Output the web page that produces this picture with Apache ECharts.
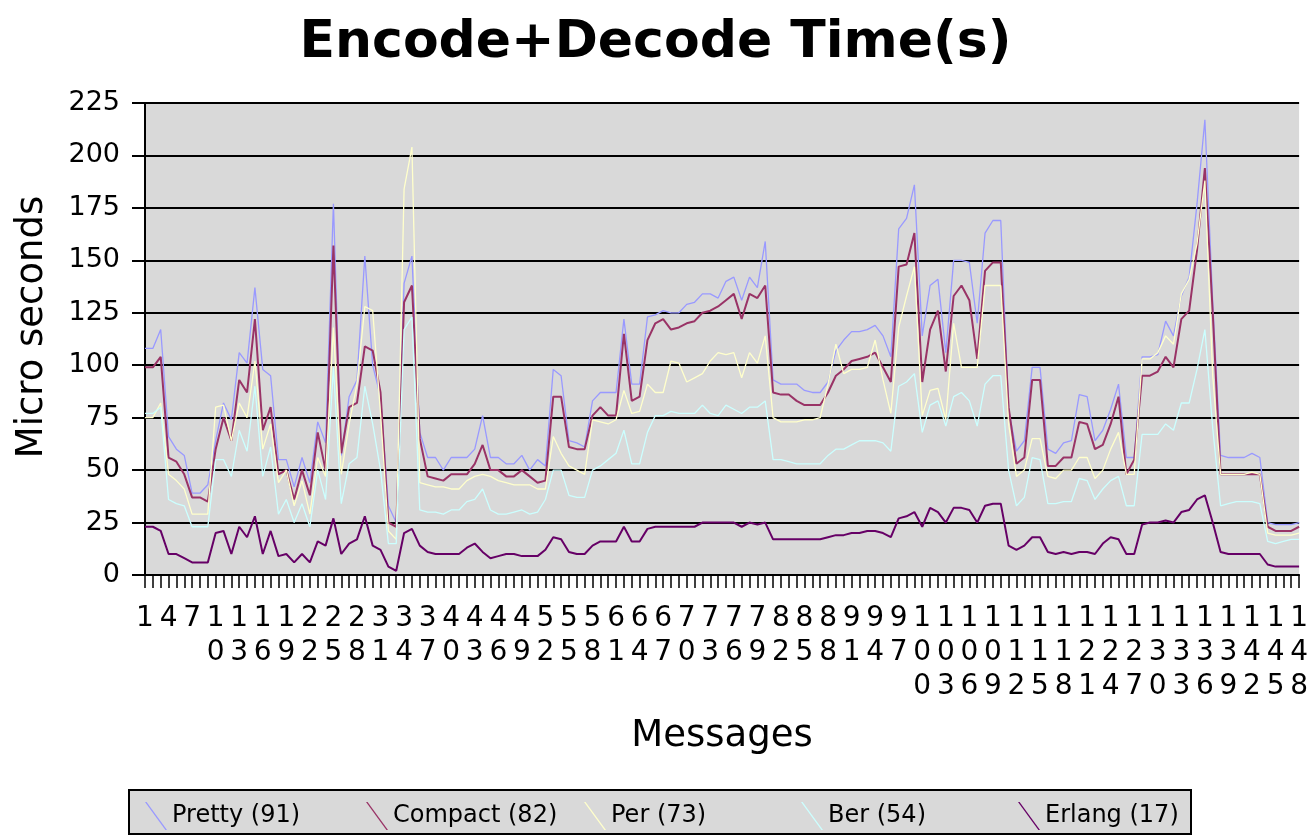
<!DOCTYPE html>
<html>
<head>
<meta charset="utf-8">
<title>Encode+Decode Time(s)</title>
<script src="https://cdn.jsdelivr.net/npm/echarts@6/dist/echarts.min.js"></script>
<style>
  html, body { margin: 0; padding: 0; background: #fff; }
  #chart { width: 1311px; height: 835px; }
</style>
</head>
<body>
<div id="chart"></div>
<script>
// message numbers on the x axis
let messages = [
  1, 2, 3, 4, 5, 6, 7, 8, 9, 10, 11, 12, 13, 14, 15, 16, 17, 18, 19, 20,
  21, 22, 23, 24, 25, 26, 27, 28, 29, 30, 31, 32, 33, 34, 35, 36, 37, 38, 39, 40,
  41, 42, 43, 44, 45, 46, 47, 48, 49, 50, 51, 52, 53, 54, 55, 56, 57, 58, 59, 60,
  61, 62, 63, 64, 65, 66, 67, 68, 69, 70, 71, 72, 73, 74, 75, 76, 77, 78, 79, 80,
  81, 82, 83, 84, 85, 86, 87, 88, 89, 90, 91, 92, 93, 94, 95, 96, 97, 98, 99, 100,
  101, 102, 103, 104, 105, 106, 107, 108, 109, 110, 111, 112, 113, 114, 115, 116, 117, 118, 119, 120,
  121, 122, 123, 124, 125, 126, 127, 128, 129, 130, 131, 132, 133, 134, 135, 136, 137, 138, 139, 140,
  141, 142, 143, 144, 145, 146, 147, 148
]

// micro seconds per message
let pretty = [
  108, 108, 117, 66, 60, 57, 39, 39, 43, 64, 82, 74, 106, 101, 137, 98, 95, 55, 55, 42, 56, 44, 73, 63, 177,
  57, 85, 93, 152, 100, 85, 33, 25, 139, 152, 68, 56, 56, 50, 56, 56, 56, 60, 76, 56, 56, 53, 53, 57, 50,
  55, 52, 98, 95, 64, 63, 61, 83, 87, 87, 87, 122, 91, 91, 123, 124, 126, 125, 125, 129, 130, 134, 134, 132, 140,
  142, 131, 142, 137, 159, 93, 91, 91, 91, 88, 87, 87, 92, 107, 112, 116, 116, 117, 119, 114, 104, 165, 170, 186, 114,
  138, 141, 106, 150, 150, 149, 120, 163, 169, 169, 79, 59, 64, 99, 99, 60, 58, 63, 64, 86, 85, 64, 69, 79, 91,
  56, 56, 104, 104, 105, 121, 114, 133, 142, 177, 217, 130, 57, 56, 56, 56, 58, 56, 25, 24, 24, 24, 25
]
let compact = [
  99, 99, 104, 56, 54, 48, 37, 37, 35, 60, 75, 64, 93, 87, 122, 69, 80, 48, 50, 36, 50, 38, 68, 50, 157,
  58, 80, 82, 109, 107, 87, 25, 23, 130, 138, 65, 47, 46, 45, 48, 48, 48, 53, 62, 50, 50, 47, 47, 50, 47,
  44, 45, 85, 85, 61, 60, 60, 76, 80, 76, 76, 115, 83, 85, 112, 120, 122, 117, 118, 120, 121, 125, 126, 128, 131,
  134, 122, 134, 132, 138, 87, 86, 86, 83, 81, 81, 81, 87, 95, 98, 102, 103, 104, 106, 99, 92, 147, 148, 163, 92,
  117, 126, 97, 133, 138, 131, 103, 145, 149, 149, 80, 53, 56, 93, 93, 52, 52, 56, 56, 73, 72, 60, 62, 72, 85,
  48, 55, 95, 95, 97, 104, 99, 122, 126, 155, 194, 125, 48, 48, 48, 48, 48, 48, 23, 21, 21, 21, 23
]
let per = [
  75, 75, 82, 48, 45, 41, 29, 29, 29, 80, 81, 64, 82, 75, 102, 60, 72, 44, 50, 33, 45, 29, 56, 47, 118,
  48, 72, 91, 128, 126, 77, 21, 17, 184, 204, 44, 43, 42, 42, 41, 41, 45, 47, 48, 47, 45, 44, 43, 43, 43,
  41, 41, 66, 58, 52, 50, 48, 74, 73, 72, 74, 88, 77, 78, 91, 87, 87, 102, 101, 92, 94, 96, 102, 106, 105,
  106, 94, 106, 101, 114, 75, 73, 73, 73, 74, 74, 75, 91, 110, 96, 98, 98, 99, 112, 93, 77, 118, 133, 147, 76,
  88, 89, 74, 120, 99, 99, 99, 138, 138, 138, 72, 47, 50, 65, 65, 47, 46, 50, 50, 56, 56, 46, 50, 60, 68,
  48, 48, 103, 103, 106, 114, 110, 134, 141, 158, 188, 95, 48, 48, 48, 48, 49, 48, 20, 19, 19, 19, 20
]
let ber = [
  77, 77, 80, 36, 34, 33, 23, 23, 23, 55, 55, 47, 69, 59, 90, 47, 61, 29, 36, 25, 34, 23, 50, 36, 99,
  34, 53, 56, 90, 72, 50, 15, 15, 117, 123, 31, 30, 30, 29, 31, 31, 35, 36, 41, 31, 29, 29, 30, 31, 29,
  30, 36, 50, 50, 38, 37, 37, 50, 52, 55, 58, 69, 53, 53, 68, 76, 76, 78, 77, 77, 77, 81, 77, 76, 81,
  79, 77, 80, 80, 83, 55, 55, 54, 53, 53, 53, 53, 57, 60, 60, 62, 64, 64, 64, 63, 59, 90, 92, 96, 68,
  81, 83, 71, 85, 87, 83, 71, 91, 95, 95, 50, 33, 37, 56, 55, 34, 34, 35, 35, 46, 45, 36, 41, 45, 47,
  33, 33, 67, 67, 67, 72, 69, 82, 82, 98, 117, 70, 33, 34, 35, 35, 35, 34, 16, 15, 16, 17, 17
]
let erlang = [
  23, 23, 21, 10, 10, 8, 6, 6, 6, 20, 21, 10, 23, 18, 28, 10, 21, 9, 10, 6, 10, 6, 16, 14, 27,
  10, 15, 17, 28, 14, 12, 4, 2, 20, 22, 14, 11, 10, 10, 10, 10, 13, 15, 11, 8, 9, 10, 10, 9, 9,
  9, 12, 18, 17, 11, 10, 10, 14, 16, 16, 16, 23, 16, 16, 22, 23, 23, 23, 23, 23, 23, 25, 25, 25, 25,
  25, 23, 25, 24, 25, 17, 17, 17, 17, 17, 17, 17, 18, 19, 19, 20, 20, 21, 21, 20, 18, 27, 28, 30, 23,
  32, 30, 25, 32, 32, 31, 25, 33, 34, 34, 14, 12, 14, 18, 18, 11, 10, 11, 10, 11, 11, 10, 15, 18, 17,
  10, 10, 24, 25, 25, 26, 25, 30, 31, 36, 38, 25, 11, 10, 10, 10, 10, 10, 5, 4, 4, 4, 4
]

let seriesNames = ['Pretty (91)', 'Compact (82)', 'Per (73)', 'Ber (54)', 'Erlang (17)']
let seriesData = [pretty, compact, per, ber, erlang]
let seriesColors = ['#9999ff', '#993366', '#ffffcc', '#ccffff', '#660066']
let lineWidths = [1.3, 2, 1.3, 1.3, 2]
// left edge of each legend entry
let legendLeft = [140, 361, 579, 796, 1013]

let font = 'DejaVu Sans'
let chart = echarts.init(document.getElementById('chart'))

let series = seriesNames.map(function (name, i) {
  return {
    name: name,
    type: 'line',
    data: seriesData[i],
    symbol: 'none',
    color: seriesColors[i],
    lineStyle: { color: seriesColors[i], width: lineWidths[i] },
    emphasis: { disabled: true }
  }
})

let legends = seriesNames.map(function (name, i) {
  return {
    data: [name],
    left: legendLeft[i],
    top: 797,
    selectedMode: false,
    itemWidth: 22,
    itemHeight: 28,
    icon: 'path://M0,0 L1.6,0 L22,28 L20.4,28 Z',
    textStyle: { fontFamily: font, fontSize: 24, color: '#000' }
  }
})

let option = {
  animation: false,
  backgroundColor: '#fff',
  title: {
    text: 'Encode+Decode Time(s)',
    left: 'center',
    top: 12,
    textStyle: { fontFamily: font, fontSize: 52, fontWeight: 'bold', color: '#000' }
  },
  legend: legends,
  graphic: [{
    type: 'rect',
    left: 128,
    top: 789,
    shape: { width: 1062, height: 44 },
    style: { fill: '#d9d9d9', stroke: '#000', lineWidth: 2 },
    z: -1
  }],
  grid: {
    left: 145,
    right: 9,
    top: 103,
    bottom: 260,
    show: true,
    backgroundColor: '#d9d9d9',
    borderWidth: 0
  },
  xAxis: {
    type: 'category',
    data: messages.map(String),
    boundaryGap: false,
    name: 'Messages',
    nameLocation: 'middle',
    nameGap: 143,
    nameMoveOverlap: false,
    nameTextStyle: { fontFamily: font, fontSize: 37, color: '#000' },
    axisLine: { lineStyle: { color: '#000', width: 2 } },
    axisTick: { interval: 0, length: 13, lineStyle: { color: '#000', width: 1.5 } },
    axisLabel: {
      interval: 2,
      margin: 27,
      fontFamily: font,
      fontSize: 28,
      lineHeight: 34,
      color: '#000',
      formatter: function (v) { return v.split('').join('\n') }
    },
    splitLine: { show: false }
  },
  yAxis: {
    type: 'value',
    min: 0,
    max: 225,
    interval: 25,
    name: 'Micro seconds',
    nameLocation: 'middle',
    nameGap: 94,
    nameMoveOverlap: false,
    nameTextStyle: { fontFamily: font, fontSize: 37, color: '#000', padding: [0, 0, 0, 24] },
    axisLine: { show: true, lineStyle: { color: '#000', width: 2 } },
    axisTick: { show: true, length: 13, lineStyle: { color: '#000', width: 2 } },
    axisLabel: { margin: 25, fontFamily: font, fontSize: 27, color: '#000' },
    splitLine: { lineStyle: { color: '#000', width: 2 } }
  },
  series: series
}

chart.setOption(option)
</script>
</body>
</html>
